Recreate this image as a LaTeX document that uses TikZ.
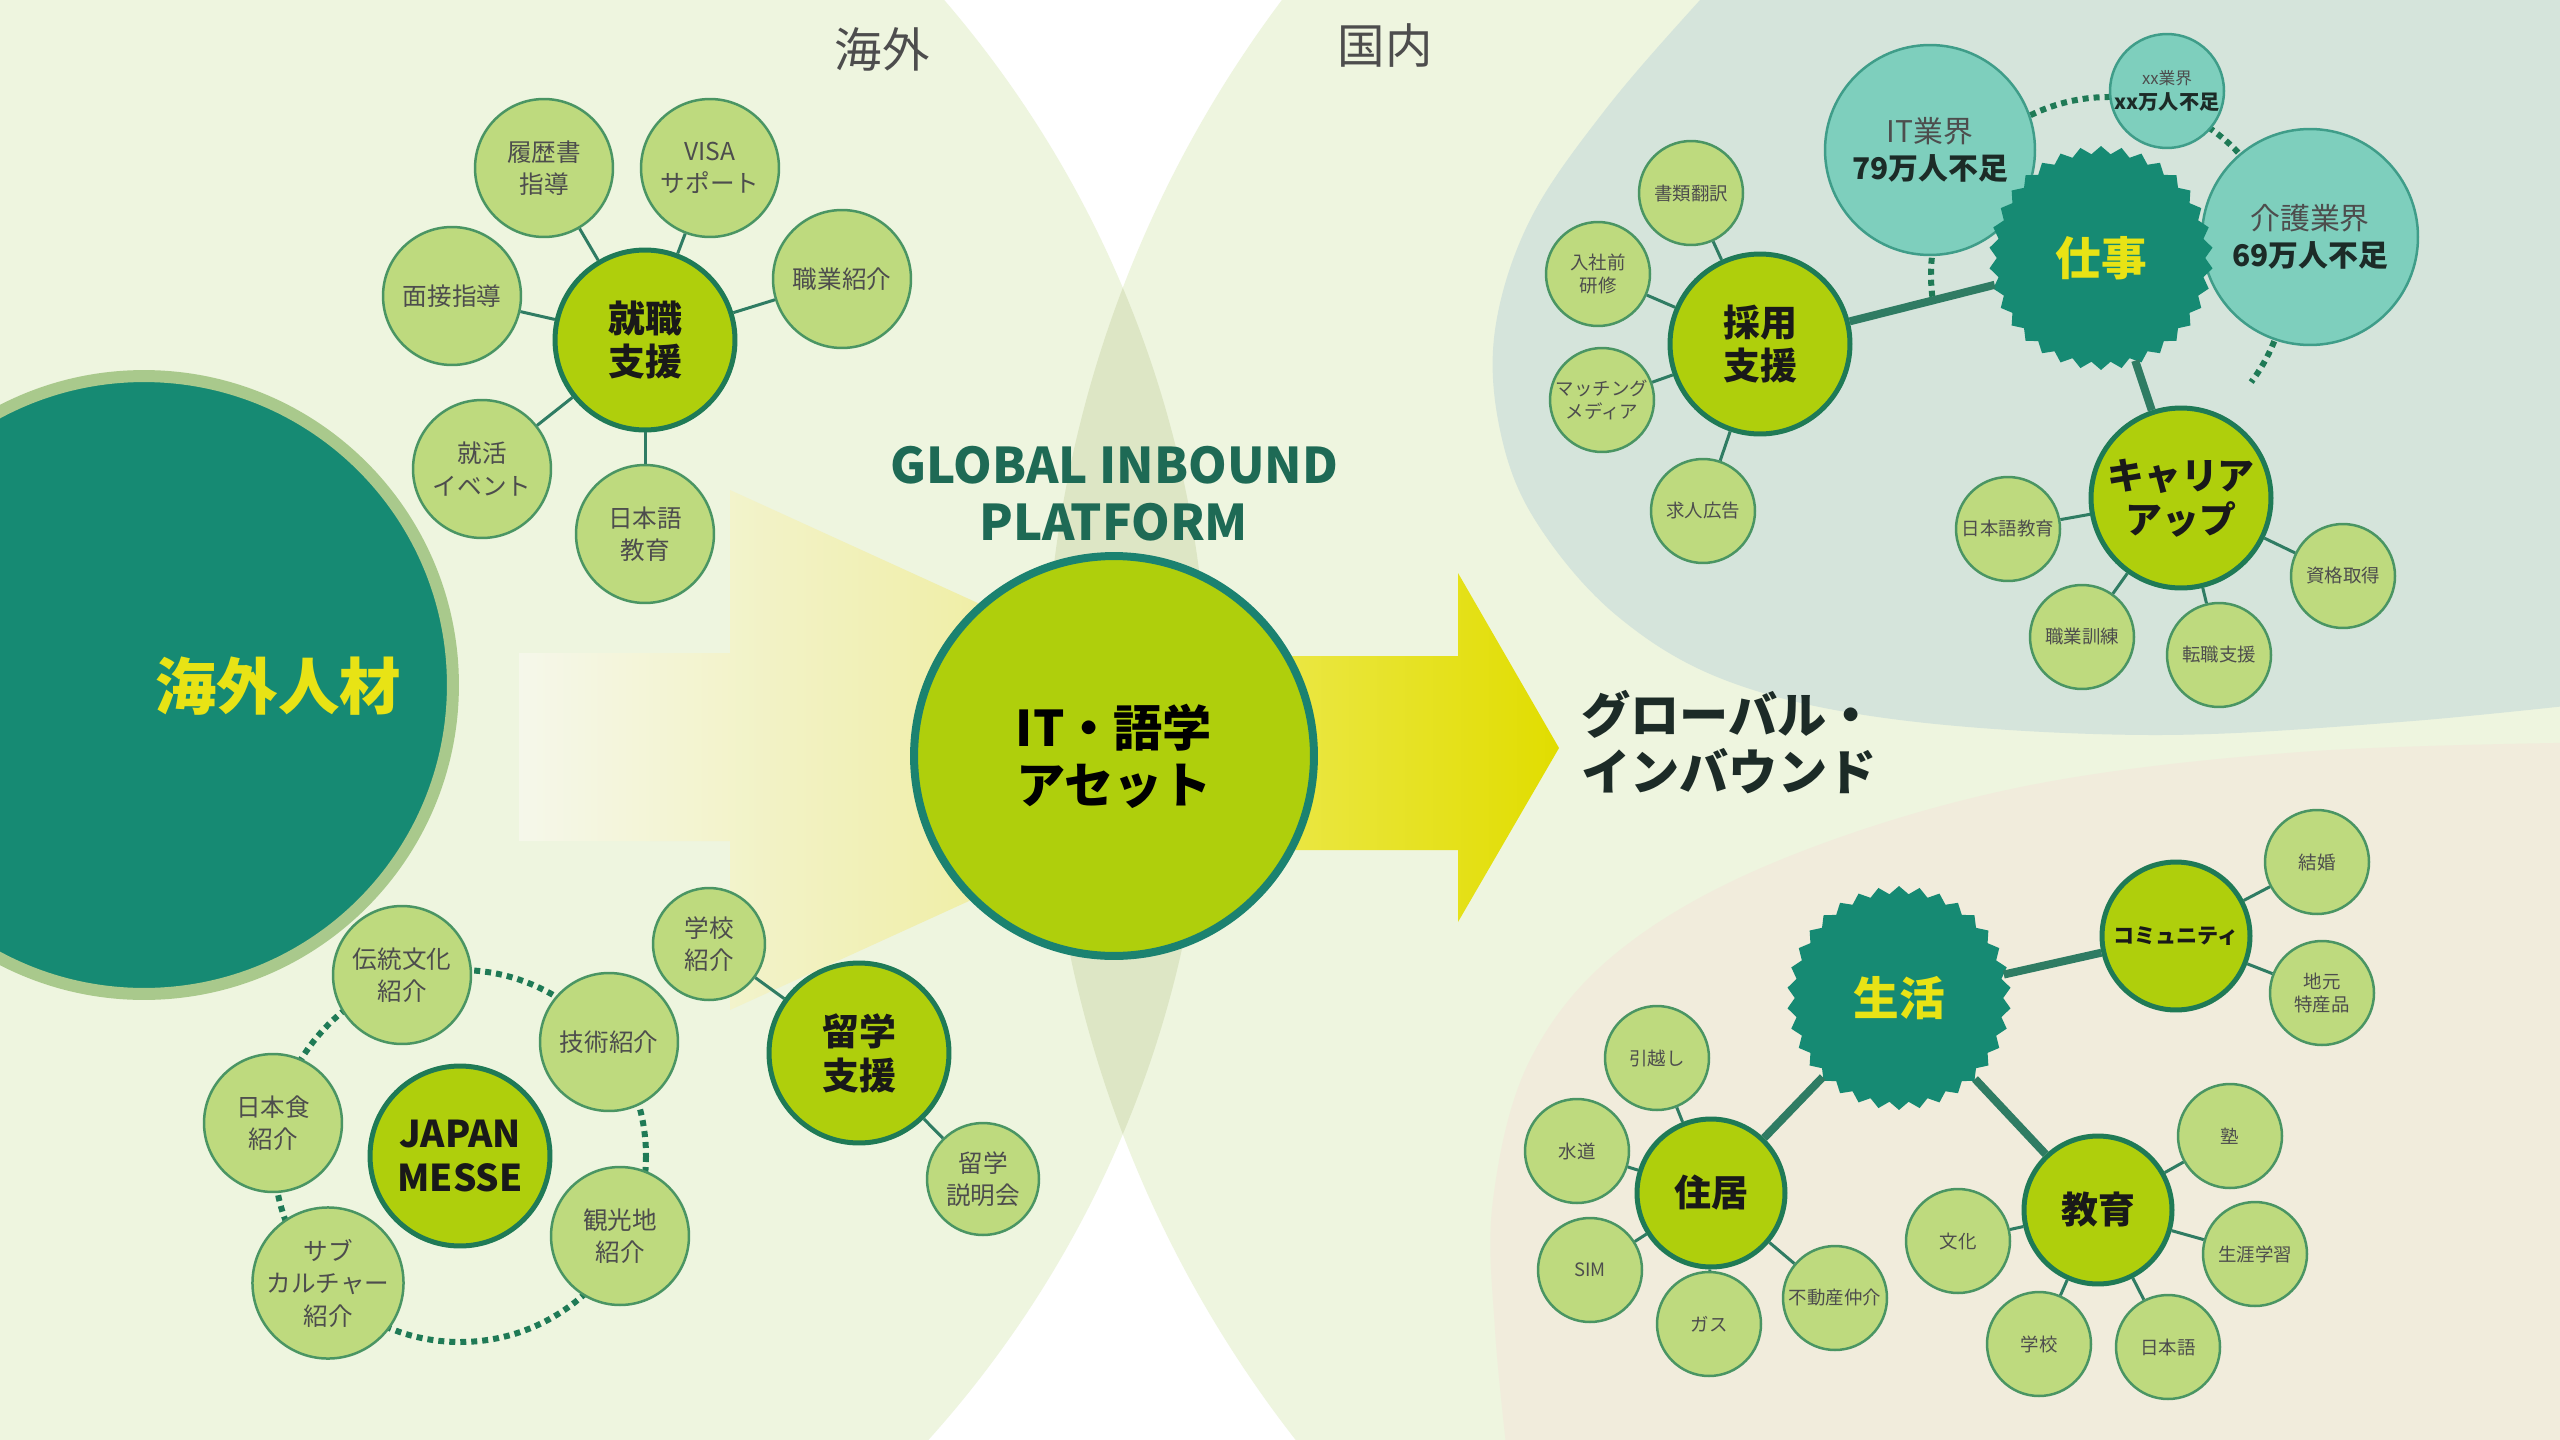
\documentclass[tikz,border=0pt]{standalone}
\usepackage{fontspec}
\setmainfont{Noto Sans CJK JP}
\usepackage{tikz}
\usetikzlibrary{shapes.geometric}

\definecolor{bggreen}{HTML}{EEF5DF}
\definecolor{lensgreen}{HTML}{DDE6C5}
\definecolor{tealbg}{HTML}{D5E4DB}
\definecolor{beigebg}{HTML}{F1ECDC}
\definecolor{deepteal}{HTML}{168A73}
\definecolor{palering}{HTML}{A9C98C}
\definecolor{hubfill}{HTML}{AFCF0C}
\definecolor{hubline}{HTML}{1F7A56}
\definecolor{assetline}{HTML}{1B8270}
\definecolor{satfill}{HTML}{BEDA7E}
\definecolor{satline}{HTML}{4A9563}
\definecolor{aquafill}{HTML}{7ECFBD}
\definecolor{aqualine}{HTML}{3F9D89}
\definecolor{linkgreen}{HTML}{2F7C63}
\definecolor{sunyellow}{HTML}{E8E315}
\definecolor{arrowpale}{HTML}{F5F7EA}
\definecolor{arrowmid}{HTML}{ECE878}
\definecolor{arrowlight}{HTML}{ECE84C}
\definecolor{arrowyel}{HTML}{E1DD00}
\definecolor{inkgray}{HTML}{4D4D4D}
\definecolor{inkdark}{HTML}{1C2B27}
\definecolor{titleteal}{HTML}{1E6A55}

\begin{document}
\begin{tikzpicture}[x=0.02cm, y=-0.02cm,
    hub/.style={circle, fill=hubfill, draw=hubline, line width=0.1cm, minimum size=3.6cm, inner sep=0pt, align=center, text=black!90, font=\bfseries\fontsize{21}{25}\selectfont},
    midhub/.style={hub, minimum size=2.96cm},
    sat/.style={circle, fill=satfill, draw=satline, line width=0.05cm, minimum size=2.76cm, inner sep=0pt, align=center, text=inkgray, font=\fontsize{14}{18.5}\selectfont},
    minisat/.style={sat, minimum size=2.08cm, font=\fontsize{10.5}{13}\selectfont},
    aqua/.style={circle, fill=aquafill, draw=aqualine, line width=0.05cm, inner sep=0pt, align=center, text=inkgray, font=\fontsize{17}{21}\selectfont},
    seal/.style={star, star points=34, star point ratio=1.075, fill=deepteal, minimum size=4.48cm, inner sep=0pt, text=sunyellow, font=\bfseries\fontsize{26}{30}\selectfont},
    link/.style={draw=linkgreen, line width=0.06cm},
    biglink/.style={draw=linkgreen, line width=0.16cm},
    dotring/.style={draw=hubline, line width=0.12cm, dash pattern=on 0.12cm off 0.1cm}]
    \useasboundingbox (0,0) rectangle (2560,1440);
    \clip (0,0) rectangle (2560,1440);
    \fill[white] (0,0) rectangle (2560,1440);

    % overseas / domestic areas
    \fill[bggreen] (118,711) circle[radius=1090];
    \fill[bggreen] (2230,711) circle[radius=1185];
    \begin{scope}
        \clip (118,711) circle[radius=1090];
        \fill[lensgreen] (2230,711) circle[radius=1185];
    \end{scope}
    \fill[tealbg] plot[smooth, tension=0.6] coordinates {(1740,-40) (1700,0) (1605,110) (1530,220) (1495,330) (1500,430) (1535,520) (1616,615) (1730,682) (1900,720) (2150,735) (2400,722) (2620,700)} -- (2620,-40) -- cycle;
    \fill[beigebg] plot[smooth, tension=0.6] coordinates {(2620,742) (2300,752) (2016,788) (1780,860) (1620,950) (1530,1060) (1493,1200) (1495,1330) (1510,1480)} -- (2620,1480) -- cycle;

    % arrows
    \shade[left color=arrowpale, right color=arrowmid] (519,653) -- (730,653) -- (730,490) -- (1300,750) -- (730,1010) -- (730,841) -- (519,841) -- cycle;
    \shade[left color=arrowlight, right color=arrowyel] (1250,656) -- (1458,656) -- (1458,573) -- (1559,748) -- (1458,922) -- (1458,850) -- (1250,850) -- cycle;

    \node[circle, fill=deepteal, draw=palering, line width=0.24cm, minimum size=12.36cm] (jinzai) at (144,685) {};
    \node[text=sunyellow, font=\bfseries\fontsize{35}{40}\selectfont] (jinzailabel) at (278,686) {海外人材};

    \node[text=inkgray, font=\fontsize{27}{30}\selectfont] (kaigai) at (882,49) {海外};
    \node[text=inkgray, font=\fontsize{27}{30}\selectfont] (kokunai) at (1385,46) {国内};
    \node[text=titleteal, align=center, font=\bfseries\fontsize{28}{32.5}\selectfont] (platform) at (1114,494) {GLOBAL INBOUND\\PLATFORM};
    \node[circle, fill=hubfill, draw=assetline, line width=0.16cm, minimum size=8cm, align=center, font=\bfseries\fontsize{28}{32.5}\selectfont] (asset) at (1114,756) {IT・語学\\アセット};
    \node[anchor=west, align=left, text=inkdark, font=\bfseries\fontsize{28}{32.5}\selectfont] (inbound) at (1575,742) {グローバル・\\インバウンド};

    % dotted rings
    \coordinate (messec) at (460,1156);
    \draw[dotring] (messec) circle[radius=186];
    \coordinate (shigotoc) at (2109,275);
    \draw[dotring] ([shift={(173:178)}]shigotoc) arc[start angle=173, end angle=397, radius=178];

    % job support
    \node[hub] (shushoku) at (645,340) {就職\\支援};
    \node[sat] (rireki) at (544,168) {履歴書\\指導};
    \node[sat] (visa) at (710,168) {VISA\\サポート};
    \node[sat] (shokugyo) at (842,279) {職業紹介};
    \node[sat] (mensetsu) at (452,296) {面接指導};
    \node[sat] (shukatsu) at (482,469) {就活\\イベント};
    \node[sat] (nihongo) at (645,534) {日本語\\教育};
    \foreach \s in {rireki, visa, shokugyo, mensetsu, shukatsu, nihongo}
        \draw[link] (shushoku) -- (\s);

    % japan messe
    \node[hub] (messe) at (messec) {JAPAN\\MESSE};
    \node[sat] (dento) at (402,975) {伝統文化\\紹介};
    \node[sat] (gijutsu) at (609,1042) {技術紹介};
    \node[sat] (washoku) at (273,1123) {日本食\\紹介};
    \node[sat] (kanko) at (620,1236) {観光地\\紹介};
    \node[sat] (subcul) at (328,1283) {サブ\\カルチャー\\紹介};

    % study abroad
    \node[hub] (ryugaku) at (859,1053) {留学\\支援};
    \node[sat, minimum size=2.24cm] (gakko) at (709,944) {学校\\紹介};
    \node[sat, minimum size=2.24cm] (setsumei) at (983,1179) {留学\\説明会};
    \draw[link] (ryugaku) -- (gakko);
    \draw[link] (ryugaku) -- (setsumei);

    % work
    \node[aqua, minimum size=4.2cm] (itgyokai) at (1930,150) {IT業界\\\textbf{\color{inkdark}79万人不足}};
    \node[aqua, minimum size=2.28cm, font=\fontsize{11.5}{14}\selectfont] (xxgyokai) at (2167,91) {{\fontsize{9.5}{12}\selectfont xx業界}\\\textbf{\color{inkdark}xx万人不足}};
    \node[aqua, minimum size=4.32cm] (kaigo) at (2310,237) {介護業界\\\textbf{\color{inkdark}69万人不足}};
    \node[seal] (shigoto) at (2101,258) {仕事};
    \node[hub] (saiyo) at (1760,344) {採用\\支援};
    \node[minisat] (shorui) at (1691,193) {書類翻訳};
    \node[minisat] (nyusha) at (1598,274) {入社前\\研修};
    \node[minisat] (matching) at (1602,400) {マッチング\\メディア};
    \node[minisat] (kyujin) at (1703,511) {求人広告};
    \node[hub] (career) at (2181,498) {キャリア\\アップ};
    \node[minisat] (gogaku) at (2008,529) {日本語教育};
    \node[minisat] (kunren) at (2082,637) {職業訓練};
    \node[minisat] (tenshoku) at (2219,655) {転職支援};
    \node[minisat] (shikaku) at (2343,576) {資格取得};
    \draw[biglink] (shigoto) -- (saiyo);
    \draw[biglink] (shigoto) -- (career);
    \foreach \s in {shorui, nyusha, matching, kyujin}
        \draw[link] (saiyo) -- (\s);
    \foreach \s in {gogaku, kunren, tenshoku, shikaku}
        \draw[link] (career) -- (\s);

    % life
    \node[seal] (seikatsu) at (1899,998) {生活};
    \node[midhub, font=\bfseries\fontsize{12}{14}\selectfont] (community) at (2176,936) {コミュニティ};
    \node[minisat] (kekkon) at (2317,862) {結婚};
    \node[minisat] (tokusan) at (2322,993) {地元\\特産品};
    \node[midhub] (jukyo) at (1711,1193) {住居};
    \node[minisat] (hikkoshi) at (1657,1058) {引越し};
    \node[minisat] (suido) at (1577,1151) {水道};
    \node[minisat] (sim) at (1590,1270) {SIM};
    \node[minisat] (gas) at (1709,1324) {ガス};
    \node[minisat] (fudosan) at (1835,1298) {不動産仲介};
    \node[midhub] (kyoiku) at (2098,1210) {教育};
    \node[minisat] (juku) at (2230,1136) {塾};
    \node[minisat] (bunka) at (1958,1241) {文化};
    \node[minisat] (shogai) at (2255,1254) {生涯学習};
    \node[minisat] (gakkou) at (2039,1344) {学校};
    \node[minisat] (nihongob) at (2168,1347) {日本語};
    \draw[biglink] (seikatsu) -- (community);
    \draw[biglink] (seikatsu) -- (jukyo);
    \draw[biglink] (seikatsu) -- (kyoiku);
    \foreach \s in {kekkon, tokusan}
        \draw[link] (community) -- (\s);
    \foreach \s in {hikkoshi, suido, sim, gas, fudosan}
        \draw[link] (jukyo) -- (\s);
    \foreach \s in {juku, bunka, shogai, gakkou, nihongob}
        \draw[link] (kyoiku) -- (\s);
\end{tikzpicture}
\end{document}
